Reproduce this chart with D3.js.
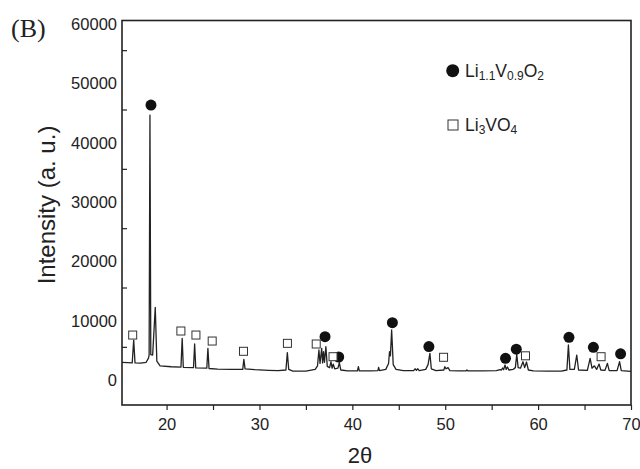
<!DOCTYPE html>
<html>
<head>
<meta charset="utf-8">
<script src="https://cdn.jsdelivr.net/npm/d3@7"></script>
<style>
    body { margin: 0; background: #fff; }
    svg { display: block; }
    text { font-family: "Liberation Sans", Arial, sans-serif; fill: #222; }
</style>
</head>
<body>
<svg></svg>
<script>
"use strict";

// XRD trace (2theta, counts)
var twoTheta = [15.2, 15.8, 16.3, 16.46, 16.6, 17.2, 17.8, 18.05, 18.12, 18.21, 18.3, 18.5, 18.78, 18.95, 19.3,
    20.5, 21.55, 21.68, 21.8, 22.9, 23.02, 23.14, 24.33, 24.45, 24.57, 25.5, 27.0, 28.2, 28.32, 28.45,
    29.5, 31.0, 32.0, 32.85, 33.0, 33.15, 33.6, 35.0, 36.0, 36.25, 36.4, 36.52, 36.7, 36.8, 36.9, 37.0,
    37.15, 37.3, 37.55, 37.7, 37.82, 37.94, 38.1, 38.45, 38.6, 38.75, 39.5, 40.55, 40.65, 40.75, 42.0,
    42.75, 42.83, 42.92, 43.6, 43.9, 44.0, 44.1, 44.23, 44.4, 44.7, 45.5, 46.6, 46.75, 46.9, 47.05, 47.2,
    47.9, 48.15, 48.35, 48.5, 49.0, 49.85, 49.96, 50.1, 50.3, 50.5, 51.5, 52.25, 52.33, 52.45, 54.0,
    55.5, 55.9, 56.05, 56.17, 56.28, 56.44, 56.56, 56.7, 56.85, 57.3, 57.55, 57.7, 57.85, 58.1, 58.37,
    58.55, 58.75, 58.95, 59.5, 61.0, 62.5, 63.1, 63.26, 63.42, 63.9, 64.16, 64.35, 65.3, 65.6, 65.8,
    66.06, 66.3, 66.56, 66.75, 67.2, 67.46, 67.65, 68.5, 68.77, 68.95, 70.0];
var counts = [2400, 2350, 2300, 6150, 2300, 2250, 2400, 3100, 3600, 44060, 3700, 3600, 11660, 2600, 1800,
    1650, 1600, 6440, 1550, 1500, 5480, 1450, 1400, 4750, 1350, 1250, 1200, 1200, 2900, 1300,
    1150, 1050, 1000, 1100, 4040, 1200, 900, 900, 1200, 1800, 4470, 2200, 4750, 2300, 4180, 2400,
    5030, 1700, 1500, 2490, 1400, 2100, 1300, 1400, 2330, 1100, 950, 950, 1650, 950, 950,
    1000, 1550, 1000, 1200, 2200, 4180, 3500, 7840, 2000, 1200, 1000, 1000, 1300, 1050, 1300, 1000,
    1200, 2000, 3910, 1300, 1000, 1100, 1650, 1300, 1500, 1000, 950, 950, 1100, 950, 950,
    1000, 1150, 1100, 1430, 1150, 1940, 1200, 1600, 1100, 1200, 1500, 3710, 1500, 1400, 2490,
    1500, 2440, 1100, 950, 900, 900, 1100, 5310, 1200, 1200, 3620, 1100, 1050, 3070, 1400,
    1800, 1200, 2100, 1100, 1050, 2220, 1000, 1000, 2490, 1000, 850];

// phase markers
var liVOx = [18.32, 37.06, 38.53, 44.31, 48.24, 56.49, 57.65, 63.32, 65.95, 68.88];
var liVOy = [45750, 6710, 3290, 9070, 5040, 3070, 4600, 6610, 4920, 3830];
var li3x = [16.35, 21.54, 23.16, 24.91, 28.28, 33.01, 36.11, 37.92, 49.82, 58.64, 66.78];
var li3y = [6990, 7670, 6990, 5980, 4250, 5590, 5480, 3340, 3240, 3490, 3340];

var yMajor = [0, 10000, 20000, 30000, 40000, 50000, 60000];
var yMinor = [5000, 15000, 25000, 35000, 45000, 55000];
var xMajor = [20, 30, 40, 50, 60, 70];
var xMinor = [25, 35, 45, 55, 65];

var settings = {
    width: 640,
    height: 469,
    plot: { left: 122, right: 631, top: 20.5, bottom: 405 },
    ink: '#222'
};

var svg = d3.select('svg')
    .attr('width', settings.width)
    .attr('height', settings.height);

var x = d3.scaleLinear().domain([15.2, 70]).range([settings.plot.left, settings.plot.right]);
var y = d3.scaleLinear().domain([-4800, 60000]).range([settings.plot.bottom, settings.plot.top]);

svg.append('clipPath').attr('id', 'clip')
    .append('rect')
    .attr('x', settings.plot.left)
    .attr('y', settings.plot.top)
    .attr('width', settings.plot.right - settings.plot.left)
    .attr('height', settings.plot.bottom - settings.plot.top);

// trace
var line = d3.line().x(d => x(d[0])).y(d => y(d[1]));
svg.append('path')
    .datum(d3.zip(twoTheta, counts))
    .attr('clip-path', 'url(#clip)')
    .attr('d', line)
    .attr('fill', 'none')
    .attr('stroke', settings.ink)
    .attr('stroke-width', 1.3)
    .attr('stroke-linejoin', 'round');

// markers
svg.append('g')
    .selectAll('circle')
    .data(d3.zip(liVOx, liVOy))
    .enter()
    .append('circle')
    .attr('cx', d => x(d[0]))
    .attr('cy', d => y(d[1]))
    .attr('r', 5.5)
    .attr('fill', '#111');

svg.append('g')
    .selectAll('rect')
    .data(d3.zip(li3x, li3y))
    .enter()
    .append('rect')
    .attr('x', d => x(d[0]) - 4)
    .attr('y', d => y(d[1]) - 4)
    .attr('width', 8)
    .attr('height', 8)
    .attr('fill', 'white')
    .attr('stroke', '#333')
    .attr('stroke-width', 1);

// axes
var yAxis = svg.append('g')
    .attr('transform', `translate(${settings.plot.left},0)`)
    .call(d3.axisLeft(y).tickValues(yMajor).tickSize(0).tickPadding(5).tickFormat(d3.format('d')));
yAxis.selectAll('text').attr('dy', '0.55em');

svg.append('g')
    .attr('transform', `translate(${settings.plot.left},0)`)
    .call(d3.axisRight(y).tickValues(yMinor).tickSize(5).tickFormat(''));

svg.append('g')
    .attr('transform', `translate(0,${settings.plot.bottom})`)
    .call(d3.axisBottom(x).tickValues(xMajor).tickSize(5).tickPadding(8).tickFormat(d3.format('d')));

svg.append('g')
    .attr('transform', `translate(0,${settings.plot.bottom})`)
    .call(d3.axisBottom(x).tickValues(xMinor).tickSize(5).tickFormat(''));

svg.selectAll('.domain').remove();
svg.selectAll('.tick line').attr('stroke', settings.ink).attr('stroke-width', 1.2);
svg.selectAll('.tick text')
    .style('font-family', '"Liberation Sans", Arial, sans-serif')
    .style('font-size', '16.5px')
    .attr('fill', settings.ink);

// frame
svg.append('rect')
    .attr('x', settings.plot.left)
    .attr('y', settings.plot.top)
    .attr('width', settings.plot.right - settings.plot.left)
    .attr('height', settings.plot.bottom - settings.plot.top)
    .attr('fill', 'none')
    .attr('stroke', settings.ink)
    .attr('stroke-width', 1.6);

// labels
svg.append('text')
    .attr('transform', 'translate(55,205) rotate(-90)')
    .attr('text-anchor', 'middle')
    .style('font-size', '24px')
    .text('Intensity (a. u.)');

svg.append('text')
    .attr('x', 360)
    .attr('y', 463)
    .attr('text-anchor', 'middle')
    .style('font-size', '22px')
    .text('2θ');

svg.append('text')
    .attr('x', 11)
    .attr('y', 37)
    .style('font-family', '"Liberation Serif", "Times New Roman", serif')
    .style('font-size', '26px')
    .text('(B)');

// legend
var legend = svg.append('g');
legend.append('circle').attr('cx', 452.7).attr('cy', 70.7).attr('r', 6.5).attr('fill', '#111');
legend.append('rect').attr('x', 448).attr('y', 120).attr('width', 10).attr('height', 10)
    .attr('fill', 'white').attr('stroke', '#333').attr('stroke-width', 1);

function formula(g, px, py, parts) {
    var t = g.append('text').attr('x', px).attr('y', py).style('font-size', '17.5px');
    var shift = 0;
    parts.forEach(p => {
        var sub = p[1] ? 3 : 0;
        t.append('tspan')
            .attr('dy', sub - shift)
            .style('font-size', sub ? '12px' : '17.5px')
            .text(p[0]);
        shift = sub;
    });
}

formula(legend, 465, 76.5, [['Li'], ['1.1', 1], ['V'], ['0.9', 1], ['O'], ['2', 1]]);
formula(legend, 465, 131, [['Li'], ['3', 1], ['VO'], ['4', 1]]);
</script>
</body>
</html>
